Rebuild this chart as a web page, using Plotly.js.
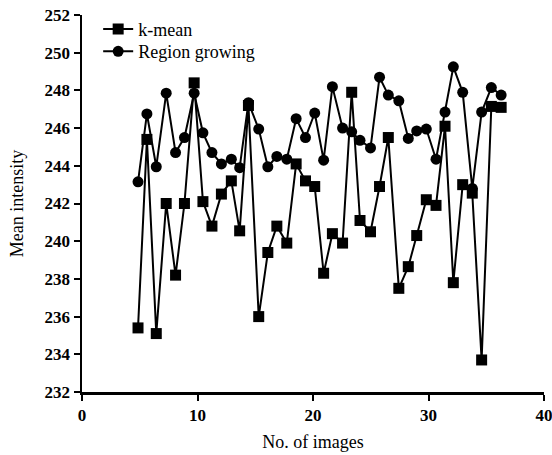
<!DOCTYPE html>
<html>
<head>
<meta charset="utf-8">
<script src="https://cdn.plot.ly/plotly-3.0.1.min.js"></script>
<style>html,body{margin:0;padding:0;background:#fff;}#chart{width:552px;height:455px;}</style>
</head>
<body>
<div id="chart"></div>
<script>
const imageNo = [4.85, 5.62, 6.43, 7.29, 8.1, 8.87, 9.71, 10.47, 11.25, 12.07, 12.93, 13.65, 14.41, 15.3, 16.09, 16.87, 17.73, 18.54, 19.35, 20.15, 20.92, 21.68, 22.56, 23.35, 24.07, 24.98, 25.76, 26.52, 27.43, 28.25, 28.98, 29.81, 30.65, 31.43, 32.15, 32.96, 33.79, 34.6, 35.44, 36.29];
const kMean = [235.4, 245.4, 235.1, 242.0, 238.2, 242.0, 248.4, 242.1, 240.8, 242.5, 243.2, 240.55, 247.2, 236.0, 239.4, 240.8, 239.9, 244.1, 243.2, 242.9, 238.3, 240.4, 239.9, 247.9, 241.1, 240.5, 242.9, 245.5, 237.5, 238.65, 240.3, 242.2, 241.9, 246.1, 237.8, 243.0, 242.55, 233.7, 247.15, 247.1];
const regionGrowing = [243.15, 246.75, 243.95, 247.85, 244.7, 245.5, 247.85, 245.75, 244.7, 244.1, 244.35, 243.9, 247.35, 245.95, 243.95, 244.5, 244.35, 246.5, 245.5, 246.8, 244.3, 248.2, 246.0, 245.8, 245.35, 244.95, 248.7, 247.75, 247.45, 245.45, 245.85, 245.95, 244.35, 246.85, 249.25, 247.9, 242.8, 246.85, 248.15, 247.75];
const seriesNames = ["k-mean", "Region growing"];
const xTicks = [0, 10, 20, 30, 40];
const yTicks = [232, 234, 236, 238, 240, 242, 244, 246, 248, 250, 252];

const font = "Liberation Serif, Times New Roman, serif";
const bold = v => "<b>" + v + "</b>";
const traces = [
  {x: imageNo, y: kMean, name: seriesNames[0], type: "scatter", mode: "lines+markers", legend: "legend",
   line: {color: "#000", width: 2}, marker: {symbol: "square", size: 11, color: "#000"}},
  {x: imageNo, y: regionGrowing, name: seriesNames[1], type: "scatter", mode: "lines+markers", legend: "legend2",
   line: {color: "#000", width: 2}, marker: {symbol: "circle", size: 11, color: "#000"}}
];
const legendFont = {family: font, size: 18, color: "#000"};
const layout = {
  width: 552, height: 455,
  margin: {l: 82, r: 8, t: 15, b: 63},
  paper_bgcolor: "#fff", plot_bgcolor: "#fff",
  showlegend: true,
  legend: {x: 0.035, y: 0.962, xanchor: "left", yanchor: "middle", bgcolor: "rgba(0,0,0,0)",
           font: legendFont, itemwidth: 30},
  legend2: {x: 0.035, y: 0.903, xanchor: "left", yanchor: "middle", bgcolor: "rgba(0,0,0,0)",
           font: legendFont, itemwidth: 30},
  xaxis: {range: [0, 40], tickmode: "array", tickvals: xTicks, ticktext: xTicks.map(bold),
          showgrid: false, zeroline: false,
          showline: true, linecolor: "#000", linewidth: 2.5, ticks: "outside", ticklen: 6,
          tickwidth: 2, tickcolor: "#000", ticklabeloverflow: "allow",
          tickfont: {family: font, size: 17, color: "#000"},
          title: {text: "No. of images", font: {family: font, size: 18, color: "#000"}, standoff: 12}},
  yaxis: {range: [232, 252], tickmode: "array", tickvals: yTicks, ticktext: yTicks.map(bold),
          showgrid: false, zeroline: false,
          showline: true, linecolor: "#000", linewidth: 2.5, ticks: "outside", ticklen: 6,
          tickwidth: 2, tickcolor: "#000",
          tickfont: {family: font, size: 17, color: "#000"},
          title: {text: "Mean intensity", font: {family: font, size: 18, color: "#000"}, standoff: 17}}
};
Plotly.newPlot("chart", traces, layout, {displayModeBar: false, staticPlot: true});
</script>
</body>
</html>
